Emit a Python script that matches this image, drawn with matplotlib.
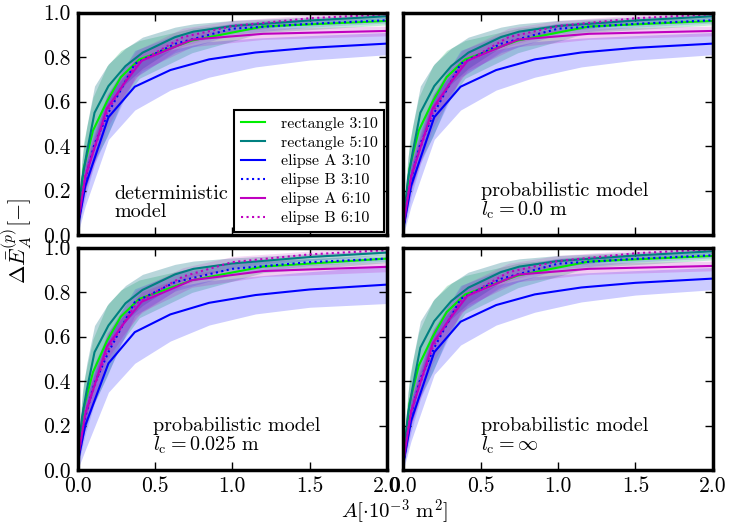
import numpy as np
import matplotlib
matplotlib.use("Agg")
import matplotlib.pyplot as plt

plt.rcParams.update({
    "font.family": "serif",
    "font.serif": ["cmr10", "DejaVu Serif"],
    "mathtext.fontset": "cm",
    "axes.unicode_minus": False,
    "axes.formatter.use_mathtext": True,
    "font.size": 14,
})

# ── data ──
# rectangle 3:10
X_RECT3 = [0.0, 0.04, 0.1, 0.19, 0.28, 0.4, 0.74, 1.2, 2.0]
Y_RECT3_DET = [0.03, 0.30, 0.47, 0.60, 0.71, 0.79, 0.875, 0.938, 0.963]
Y_RECT3_LC = [0.03, 0.28, 0.44, 0.58, 0.69, 0.77, 0.854, 0.915, 0.951]
E_RECT3 = [0.03, 0.12, 0.15, 0.16, 0.12, 0.085, 0.055, 0.027, 0.018]

# rectangle 5:10
X_RECT5 = [0.0, 0.03, 0.06, 0.11, 0.2, 0.31, 0.42, 0.63, 0.75, 1.0, 1.5, 2.0]
Y_RECT5_DET = [0.05, 0.25, 0.37, 0.55, 0.67, 0.76, 0.82, 0.89, 0.915, 0.94, 0.965, 0.984]
Y_RECT5_LC = [0.05, 0.24, 0.36, 0.53, 0.65, 0.75, 0.81, 0.88, 0.905, 0.929, 0.958, 0.978]
E_RECT5 = [0.03, 0.10, 0.12, 0.12, 0.10, 0.08, 0.07, 0.045, 0.035, 0.025, 0.015, 0.01]

# elipse A 3:10
X_ELA3 = [0.0, 0.05, 0.2, 0.37, 0.6, 0.85, 1.15, 1.5, 2.0]
Y_ELA3_DET = [0.03, 0.22, 0.53, 0.667, 0.742, 0.79, 0.821, 0.842, 0.861]
Y_ELA3_LC = [0.03, 0.20, 0.48, 0.62, 0.70, 0.752, 0.787, 0.812, 0.834]
E_ELA3_DET = [0.03, 0.09, 0.10, 0.105, 0.09, 0.08, 0.065, 0.055, 0.05]
E_ELA3_LC = [0.03, 0.11, 0.13, 0.14, 0.12, 0.10, 0.085, 0.08, 0.085]

# elipse B 3:10
X_ELB3 = [0.0, 0.05, 0.11, 0.2, 0.37, 0.63, 1.0, 1.5, 2.0]
Y_ELB3_DET = [0.03, 0.25, 0.41, 0.55, 0.77, 0.86, 0.928, 0.95, 0.966]
Y_ELB3_LC = [0.03, 0.24, 0.39, 0.53, 0.755, 0.845, 0.905, 0.935, 0.951]
E_ELB3 = [0.02, 0.08, 0.09, 0.09, 0.06, 0.04, 0.025, 0.015, 0.012]

# elipse A 6:10
X_ELA6 = [0.0, 0.05, 0.19, 0.3, 0.415, 0.74, 1.2, 2.0]
Y_ELA6_DET = [0.04, 0.26, 0.569, 0.68, 0.784, 0.879, 0.905, 0.918]
Y_ELA6_LC = [0.04, 0.25, 0.555, 0.66, 0.757, 0.854, 0.895, 0.914]
E_ELA6 = [0.02, 0.06, 0.06, 0.05, 0.045, 0.032, 0.025, 0.022]

# elipse B 6:10
X_ELB6 = [0.0, 0.05, 0.19, 0.28, 0.38, 0.68, 1.0, 1.5, 2.0]
Y_ELB6_DET = [0.04, 0.27, 0.55, 0.66, 0.77, 0.89, 0.94, 0.975, 0.993]
Y_ELB6_LC = [0.04, 0.26, 0.53, 0.64, 0.75, 0.87, 0.935, 0.97, 0.989]
E_ELB6 = [0.02, 0.07, 0.07, 0.07, 0.06, 0.04, 0.025, 0.015, 0.01]

LABELS = ["rectangle 3:10", "rectangle 5:10", "elipse A 3:10",
          "elipse B 3:10", "elipse A 6:10", "elipse B 6:10"]
COLORS = ["#00ee00", "teal", "blue", "blue", "m", "m"]
FILLS = ["#33bb77", "#1a7a8a", "blue", "blue", "m", "m"]
FILL_ALPHA = [0.3, 0.3, 0.2, 0.15, 0.2, 0.15]
STYLES = ["-", "-", "-", ":", "-", ":"]

PANEL_TEXT = ["deterministic\nmodel",
              "probabilistic model\n$l_\\mathrm{c} = 0.0$ m",
              "probabilistic model\n$l_\\mathrm{c} = 0.025$ m",
              "probabilistic model\n$l_\\mathrm{c} = \\infty$"]

DET = [(X_RECT3, Y_RECT3_DET, E_RECT3), (X_RECT5, Y_RECT5_DET, E_RECT5),
       (X_ELA3, Y_ELA3_DET, E_ELA3_DET), (X_ELB3, Y_ELB3_DET, E_ELB3),
       (X_ELA6, Y_ELA6_DET, E_ELA6), (X_ELB6, Y_ELB6_DET, E_ELB6)]
LC = [(X_RECT3, Y_RECT3_LC, E_RECT3), (X_RECT5, Y_RECT5_LC, E_RECT5),
      (X_ELA3, Y_ELA3_LC, E_ELA3_LC), (X_ELB3, Y_ELB3_LC, E_ELB3),
      (X_ELA6, Y_ELA6_LC, E_ELA6), (X_ELB6, Y_ELB6_LC, E_ELB6)]

fig = plt.figure(figsize=(7.29, 5.28), dpi=100)
W, H = 729.0, 528.0
lefts = [77.5, 403.3]
tops = [12.7, 247.7]
aw, ah = 309.5, 222.3

panels = [(0, 0, DET, 0.24, True), (0, 1, DET, 0.5, False),
          (1, 0, LC, 0.49, False), (1, 1, DET, 0.5, False)]

for k, (r, c, data, tx, legend) in enumerate(panels):
    ax = fig.add_axes([lefts[c] / W, 1 - (tops[r] + ah) / H, aw / W, ah / H])
    for (x, y, e), fc, fa in zip(data, FILLS, FILL_ALPHA):
        x = np.array(x); y = np.array(y); e = np.array(e)
        ax.fill_between(x, y - e, y + e, color=fc, alpha=fa, lw=0)
    for (x, y, e), col, ls, lab in zip(data, COLORS, STYLES, LABELS):
        ax.plot(x, y, color=col, ls=ls, lw=1.5, label=lab)
    ax.set_xlim(0, 2.0); ax.set_ylim(0, 1.0)
    ax.set_xticks([0, 0.5, 1.0, 1.5, 2.0])
    ax.set_yticks([0, 0.2, 0.4, 0.6, 0.8, 1.0])
    ax.xaxis.set_major_formatter(matplotlib.ticker.FormatStrFormatter("%.1f"))
    ax.yaxis.set_major_formatter(matplotlib.ticker.FormatStrFormatter("%.1f"))
    ax.tick_params(direction="in", top=True, right=True, length=6, width=1,
                   labelsize=15.5, pad=5,
                   labelbottom=(r == 1), labelleft=(c == 0))
    for s in ax.spines.values():
        s.set_linewidth(2.5)
    ax.text(tx, 0.065, PANEL_TEXT[k], fontsize=14.5, linespacing=0.95,
            ha="left", va="bottom")
    if legend:
        leg = ax.legend(loc="lower right", fontsize=11.5, fancybox=False,
                        framealpha=1, edgecolor="black", borderaxespad=0.2,
                        labelspacing=0.3, handlelength=1.5, handletextpad=1.0)
        leg.get_frame().set_linewidth(1.5)

fig.text(17 / W, 1 - 241 / H, r"$\Delta\bar{E}_A^{(p)}[-]$", rotation=90,
         ha="center", va="center", fontsize=16)
fig.text(395 / W, 1 - 512 / H, r"$A[\cdot 10^{-3}\ \mathrm{m}^2]$",
         ha="center", va="center", fontsize=15)

fig.savefig("out.png", dpi=100)
